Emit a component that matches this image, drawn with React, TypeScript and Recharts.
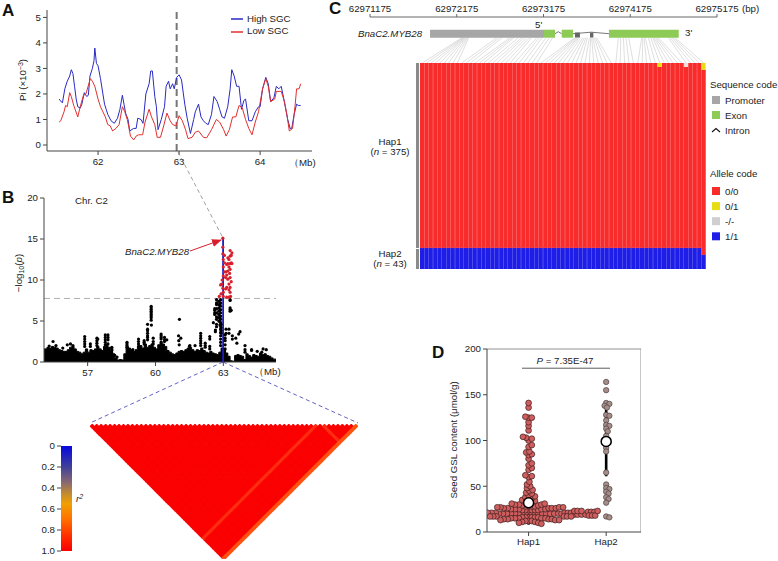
// Multi-panel figure: Pi track, Manhattan + LD, haplotype heatmap, seed GSL swarm
import React from 'react'
import {
  Area,
  Bar,
  BarChart,
  ComposedChart,
  Legend,
  Line,
  LineChart,
  ReferenceLine,
  Scatter,
  ScatterChart,
  XAxis,
  YAxis,
} from 'recharts'

type Pair = [number, number]

const toPoints = (rows: Pair[]) => rows.map(([x, y]) => ({ x, y }))

// ---- Panel A: nucleotide diversity ----
const highSgc: Pair[] = [
  [61.52, 1.8], [61.54, 1.72], [61.56, 1.65], [61.59, 2.2], [61.62, 2.5], [61.65, 2.7], [61.67, 2.95], [61.69, 2.8],
  [61.71, 2.3], [61.73, 1.8], [61.75, 1.5], [61.78, 1.45], [61.8, 1.6], [61.83, 2.05], [61.86, 1.9], [61.88, 1.95],
  [61.9, 2.7], [61.93, 3.0], [61.95, 3.3], [61.96, 3.8], [61.98, 3.2], [62.0, 3.1], [62.03, 2.6], [62.06, 2.0],
  [62.08, 1.6], [62.1, 1.4], [62.12, 1.2], [62.16, 0.95], [62.2, 0.85], [62.24, 1.05], [62.27, 1.4], [62.3, 1.95],
  [62.32, 1.6], [62.34, 1.25], [62.37, 1.0], [62.39, 0.55], [62.44, 0.65], [62.47, 0.65], [62.49, 1.05], [62.53, 1.0],
  [62.555, 0.85], [62.59, 2.0], [62.63, 2.4], [62.65, 2.9], [62.67, 2.9], [62.7, 1.9], [62.72, 1.5], [62.74, 0.6],
  [62.78, 1.0], [62.82, 1.5], [62.84, 2.3], [62.87, 2.5], [62.89, 2.2], [62.92, 2.4], [62.94, 2.2], [62.97, 2.65],
  [63.0, 2.75], [63.03, 2.55], [63.07, 1.6], [63.1, 1.05], [63.14, 0.45], [63.18, 1.0], [63.2, 1.3], [63.24, 1.6],
  [63.27, 1.1], [63.3, 0.95], [63.33, 0.85], [63.36, 0.8], [63.4, 1.2], [63.43, 1.9], [63.47, 1.7], [63.5, 1.4],
  [63.53, 1.1], [63.56, 1.05], [63.6, 1.5], [63.63, 2.2], [63.65, 2.95], [63.68, 2.7], [63.71, 2.3], [63.74, 2.3],
  [63.77, 1.4], [63.8, 1.75], [63.82, 1.8], [63.86, 0.95], [63.9, 0.95], [63.94, 1.3], [63.98, 1.5], [64.0, 1.5],
  [64.03, 2.2], [64.07, 2.65], [64.1, 2.4], [64.13, 1.7], [64.17, 1.85], [64.2, 2.3], [64.23, 2.2], [64.26, 2.3],
  [64.28, 2.0], [64.31, 1.5], [64.34, 1.0], [64.37, 0.65], [64.39, 0.65], [64.42, 1.2], [64.45, 1.6], [64.47, 1.55], [64.5, 1.55],
]
const lowSgc: Pair[] = [
  [61.52, 0.9], [61.54, 0.95], [61.58, 1.3], [61.6, 1.55], [61.62, 1.5], [61.65, 2.05], [61.67, 1.9], [61.7, 1.55],
  [61.75, 1.1], [61.78, 1.5], [61.82, 1.95], [61.85, 2.0], [61.905, 2.6], [61.93, 2.5], [61.96, 2.3], [62.0, 1.8],
  [62.03, 1.5], [62.06, 1.3], [62.09, 1.1], [62.12, 0.8], [62.15, 0.75], [62.18, 0.55], [62.22, 0.65], [62.26, 0.8],
  [62.3, 1.5], [62.33, 1.3], [62.36, 1.0], [62.38, 0.7], [62.4, 0.35], [62.44, 0.2], [62.47, 0.35], [62.5, 0.4],
  [62.55, 0.4], [62.58, 0.9], [62.6, 1.1], [62.63, 1.4], [62.66, 1.1], [62.7, 0.8], [62.73, 0.3], [62.77, 0.3],
  [62.81, 0.75], [62.85, 1.25], [62.89, 0.95], [62.92, 0.8], [62.96, 0.75], [63.0, 1.15], [63.04, 0.95], [63.08, 0.6],
  [63.11, 0.25], [63.16, 0.3], [63.2, 0.5], [63.24, 0.55], [63.3, 0.3], [63.34, 0.28], [63.4, 0.6], [63.46, 1.0],
  [63.5, 0.9], [63.55, 0.6], [63.58, 0.35], [63.62, 0.6], [63.66, 1.1], [63.7, 1.1], [63.74, 1.55], [63.78, 1.45],
  [63.82, 1.0], [63.86, 0.65], [63.9, 0.4], [63.94, 0.9], [63.98, 1.3], [64.03, 2.2], [64.07, 2.6], [64.1, 2.3],
  [64.13, 1.7], [64.18, 1.8], [64.2, 2.1], [64.26, 2.1], [64.3, 1.7], [64.33, 1.2], [64.36, 0.55], [64.4, 0.65],
  [64.43, 1.5], [64.45, 2.2], [64.48, 2.2], [64.5, 2.4],
]
const piTicksX = [62, 63, 64]
const piTicksY = [0, 1, 2, 3, 4, 5]

// ---- Panel B: Manhattan plot ----
const gwasFloor: Pair[] = [
  [55.07, 1.6], [55.2, 1.8], [55.3, 1.7], [55.4, 1.9], [55.5, 1.8], [55.6, 1.7], [55.7, 1.5], [55.8, 1.4], [55.9, 1.3],
  [56.0, 1.3], [56.1, 1.5], [56.2, 1.8], [56.3, 1.9], [56.4, 1.6], [56.5, 1.3], [56.6, 1.2], [56.7, 1.0], [56.8, 1.2],
  [56.9, 1.6], [57.0, 1.2], [57.1, 1.5], [57.2, 1.4], [57.3, 1.6], [57.4, 1.9], [57.5, 1.6], [57.6, 1.4], [57.7, 1.9],
  [57.8, 2.2], [57.9, 1.8], [58.0, 1.4], [58.1, 1.0], [58.2, 0.5], [58.3, 0.25], [58.4, 0.3], [58.5, 0.25], [58.6, 1.0],
  [58.7, 1.9], [58.8, 1.7], [58.9, 1.5], [59.0, 1.3], [59.1, 1.5], [59.2, 1.8], [59.3, 2.0], [59.4, 1.7], [59.5, 2.2],
  [59.6, 1.8], [59.7, 2.0], [59.8, 2.2], [59.9, 1.8], [60.0, 1.6], [60.1, 2.1], [60.2, 2.5], [60.3, 2.2], [60.4, 1.9],
  [60.5, 1.4], [60.6, 1.2], [60.7, 1.0], [60.8, 0.9], [60.9, 1.1], [61.0, 1.3], [61.1, 1.4], [61.2, 1.3], [61.3, 1.5],
  [61.4, 1.7], [61.5, 1.8], [61.6, 1.5], [61.7, 1.3], [61.8, 1.5], [61.9, 1.4], [62.0, 1.7], [62.1, 1.4], [62.2, 1.2],
  [62.3, 1.1], [62.4, 1.3], [62.5, 1.1], [62.6, 1.0], [62.7, 0.9], [62.8, 1.2], [62.9, 1.7], [63.0, 1.6], [63.1, 1.1],
  [63.2, 0.7], [63.3, 0.15], [63.4, 0.1], [63.5, 0.8], [63.6, 0.9], [63.7, 0.8], [63.8, 0.7], [63.9, 0.3], [64.0, 1.0],
  [64.1, 0.8], [64.2, 0.6], [64.3, 0.9], [64.4, 0.8], [64.5, 0.7], [64.6, 1.1], [64.7, 0.9], [64.8, 1.0], [64.9, 0.8],
  [65.0, 0.7], [65.1, 0.5], [65.2, 0.35], [65.33, 0.2],
]
const gwasBlack: Pair[] = [
  [59.81, 5.1], [59.81, 5.4], [59.81, 5.6], [59.81, 5.8], [59.81, 6.0], [59.81, 6.2], [59.81, 6.4], [59.81, 6.6], [59.81, 6.8],
  [59.65, 4.6], [59.65, 4.0], [59.65, 3.8], [59.65, 3.5], [59.65, 3.2], [59.65, 3.0], [59.65, 2.7], [59.82, 4.5],
  [61.06, 5.2], [61.02, 3.2], [61.12, 2.9], [61.03, 2.6], [61.05, 2.1],
  [55.3, 1.95], [55.6, 2.0], [55.47, 2.5], [55.9, 1.7], [56.24, 2.2], [56.1, 2.1], [56.35, 2.0],
  [56.87, 3.1], [56.87, 2.8], [56.87, 2.5], [56.87, 2.2], [56.87, 1.9], [57.12, 2.2], [57.12, 1.9],
  [57.41, 2.9], [57.41, 2.6], [57.41, 2.3], [57.41, 2.0], [57.45, 2.8],
  [57.78, 3.3], [57.78, 3.0], [57.78, 2.7], [57.78, 2.4], [57.78, 2.1], [57.9, 3.3], [57.9, 3.0], [57.9, 2.7], [57.9, 2.2],
  [58.07, 1.8], [58.07, 1.6], [58.07, 1.4], [58.07, 1.1], [58.2, 0.8], [58.3, 0.6],
  [58.74, 2.4], [58.74, 2.2], [58.74, 2.0], [58.74, 1.8], [59.0, 1.5], [59.25, 2.8], [59.25, 2.5], [59.25, 2.2], [59.25, 1.9],
  [59.5, 2.6], [59.5, 2.4], [59.5, 2.2], [59.9, 2.9], [59.9, 2.5], [59.9, 2.2],
  [60.25, 3.4], [60.25, 3.2], [60.25, 3.0], [60.25, 2.8], [60.4, 3.0], [60.4, 2.7], [60.4, 2.5], [60.5, 2.7],
  [61.5, 1.9], [61.52, 2.0], [61.75, 2.0], [62.0, 3.5], [62.0, 3.2], [62.0, 2.9], [62.0, 2.6], [62.0, 2.3], [62.0, 2.0],
  [62.2, 2.3], [62.2, 2.0], [62.2, 1.8], [62.4, 3.1], [62.4, 2.8], [62.4, 1.9], [62.4, 1.6],
  [62.56, 4.8], [62.7, 4.6], [62.7, 4.3], [62.65, 3.9], [62.65, 3.7],
  [62.62, 6.5], [62.62, 6.3], [62.62, 6.0], [62.62, 5.8], [62.7, 7.6], [62.7, 7.2], [62.7, 7.0], [62.7, 6.5], [62.7, 6.0], [62.7, 5.5], [62.7, 5.2],
  [62.8, 7.4], [62.8, 7.0], [62.8, 6.6], [62.8, 6.2], [62.8, 5.8], [62.8, 5.4], [62.8, 5.0],
  [62.85, 7.0], [62.85, 6.3], [62.85, 5.4], [62.85, 4.9], [62.85, 4.5], [62.9, 4.6], [62.9, 4.2], [62.9, 3.8], [62.9, 3.5],
  [62.88, 7.6], [62.88, 7.2], [62.88, 6.8], [62.88, 6.4], [62.88, 6.0], [62.88, 5.6], [62.88, 5.2], [62.88, 4.8], [62.88, 4.4],
  [62.88, 4.0], [62.88, 3.6], [62.88, 3.2], [62.88, 2.8], [62.88, 2.4], [62.88, 2.0],
  [63.08, 3.3], [63.08, 2.9], [63.08, 2.6], [63.08, 2.1], [63.08, 1.6], [63.12, 4.0], [63.12, 3.5], [63.25, 4.0], [63.25, 3.5],
  [63.3, 6.2], [63.3, 6.4], [63.3, 6.6], [63.3, 7.5], [63.3, 7.6], [63.35, 6.3], [63.4, 3.2], [63.4, 2.8],
  [63.74, 3.7], [63.68, 3.4], [63.55, 2.9], [63.6, 2.3], [63.96, 2.0], [63.96, 1.5], [63.96, 1.2],
  [64.25, 1.5], [64.25, 1.4], [64.76, 1.6], [64.9, 1.5], [64.5, 1.3], [64.7, 1.2],
]
const gwasRed: Pair[] = [
  [62.98, 15.1], [62.98, 14], [62.98, 13.2], [63.05, 13], [63.0, 12.5], [63.05, 12.1], [63.0, 11.6], [63.05, 11], [63, 10.5],
  [62.95, 10], [62.93, 9.5], [62.88, 9.4], [62.98, 9], [62.9, 8.3], [62.82, 8], [63, 8.5], [63.0, 8.0],
  [63.3, 13.6], [63.38, 13.3], [63.35, 13], [63.3, 12.9], [63.25, 12.5], [63.2, 12.7], [63.35, 12.1], [63.3, 12], [63.2, 12],
  [63.38, 12], [63.15, 11.9], [63.25, 11.6], [63.3, 11.3], [63.2, 11.1], [63.12, 11], [63.28, 10.8], [63.15, 10.6], [63.3, 10.3],
  [63.1, 10.3], [63.2, 10.1], [63.35, 9.8], [63.25, 9.5], [63.3, 9.1], [63.15, 9.1], [63.25, 8.8], [63.3, 8.5], [63.32, 8],
  [63.25, 7.9], [63.15, 7.9], [63.1, 8.9],
]
const gwasLead: Pair[] = [[62.99, 0], [62.99, 15.2]]
const gwasThreshold = 7.75
const gwasTicksX = [57, 60, 63]
const gwasTicksY = [0, 5, 10, 15, 20]

// ---- LD triangle ----
const ldSnpCount = 60
const ldWeakAsSecond = [50] // SNP whose pairs with every earlier SNP read lower
const ldWeakAsFirst = [52] // SNP whose pairs with later SNPs read lower
const ldLastSnp = 59 // far right edge
const r2Ticks = [0, 0.2, 0.4, 0.6, 0.8, 1]
const r2Stops: [number, string][] = [
  [0, '#0808e0'], [0.2, '#40409a'], [0.35, '#8a6a70'], [0.45, '#c08a30'],
  [0.55, '#f0a000'], [0.7, '#ff7000'], [0.85, '#ff3000'], [1, '#fb0000'],
]

// ---- Panel C: gene model + haplotype table ----
const rulerStart = 62971175
const rulerEnd = 62975175
const rulerTicks = [62971175, 62972175, 62973175, 62974175, 62975175]
const promoterBp = [692, 2006]
const exonBp: Pair[] = [[2006, 2133], [2210, 2340], [2755, 3559]]
const intronBp: Pair[][] = [
  [[2133, 0], [2170, 2], [2210, 0]],
  [[2340, 0], [2550, 1.5], [2755, 0]],
]
const darkIntronBlocksBp: Pair[] = [[2363, 2420], [2536, 2575]]
const snpOffsetBp = [
  1061, 1068, 1080, 1088, 1095, 1103, 1114, 1126, 1138,
  1460, 1491, 1522, 1614, 1637, 1660, 1710, 1749, 1775, 1806, 1837, 1864, 1922, 1952, 1983, 2029, 2068, 2106,
  2363, 2375, 2386, 2398, 2410, 2429, 2452, 2471, 2490, 2506, 2529, 2544, 2555, 2567, 2583, 2598, 2613,
  2863, 2890, 2921, 2951, 2982,
  3132, 3144, 3159, 3174, 3209, 3236, 3259, 3274, 3290, 3305, 3324, 3439, 3459, 3478, 3497, 3516,
]
// rows per allele call, one entry per SNP column
const allele11 = [
  43, 43, 43, 43, 43, 43, 43, 43, 43, 43, 43, 43, 43, 43, 43, 43, 43, 43, 43, 43, 43, 43,
  43, 43, 43, 43, 43, 43, 43, 43, 43, 43, 43, 43, 43, 43, 43, 43, 43, 43, 43, 43, 43, 43,
  43, 43, 43, 43, 43, 43, 43, 43, 43, 43, 43, 43, 43, 43, 43, 43, 43, 43, 43, 43, 29,
]
const allele01 = [
  0, 0, 0, 0, 0, 0, 0, 0, 0, 0, 0, 0, 0, 0, 0, 0, 0, 0, 0, 0, 0, 0,
  0, 0, 0, 0, 0, 0, 0, 0, 0, 0, 0, 0, 0, 0, 0, 0, 0, 0, 0, 0, 0, 0,
  0, 0, 0, 0, 0, 0, 0, 0, 0, 0, 8, 0, 0, 0, 0, 0, 0, 0, 0, 0, 14,
]
const alleleMissing = [
  0, 0, 0, 0, 0, 0, 0, 0, 0, 0, 0, 0, 0, 0, 0, 0, 0, 0, 0, 0, 0, 0,
  0, 0, 0, 0, 0, 0, 0, 0, 0, 0, 0, 0, 0, 0, 0, 0, 0, 0, 0, 0, 0, 0,
  0, 0, 0, 0, 0, 0, 0, 0, 0, 0, 0, 0, 0, 0, 0, 0, 8, 0, 0, 0, 0,
]
const allele00 = [
  375, 375, 375, 375, 375, 375, 375, 375, 375, 375, 375, 375, 375, 375, 375, 375, 375, 375, 375, 375, 375, 375,
  375, 375, 375, 375, 375, 375, 375, 375, 375, 375, 375, 375, 375, 375, 375, 375, 375, 375, 375, 375, 375, 375,
  375, 375, 375, 375, 375, 375, 375, 375, 375, 375, 367, 375, 375, 375, 375, 375, 367, 375, 375, 375, 375,
]
const sequenceCodes = [
  { label: 'Promoter', color: '#a6a6a6' },
  { label: 'Exon', color: '#8ecb56' },
]
const alleleCodes = [
  { label: '0/0', color: '#f92c2c' },
  { label: '0/1', color: '#e8dc14' },
  { label: '-/-', color: '#cfcfcf' },
  { label: '1/1', color: '#1e1ee8' },
]

// ---- Panel D: seed GSL swarm ----
const gslMode = 20
const gslHap1 = [
  141, 136, 126, 125, 125, 120, 116, 111, 104, 103, 102, 100, 95, 93, 88, 87, 85, 84, 80, 75, 73, 70, 68, 62, 61, 60,
  55, 52, 50, 48, 46, 45, 43, 42, 40, 39, 38, 37, 36, 35, 34, 33, 32, 32, 31, 31, 30, 30, 30, 29, 29,
  28, 28, 28, 28, 27, 27, 27, 27, 26, 26, 26, 26, 26, 25, 25, 25, 25, 25, 24, 24, 24, 24, 24, 24, 23, 23, 23, 23, 23, 23,
  22, 22, 22, 22, 22, 22, 22, 21, 21, 21, 21, 21, 21, 21, 20, 20, 20, 20, 20, 20, 20, 20, 20, 20, 20, 20, 20, 20, 20, 20, 20, 20,
  19, 19, 19, 19, 19, 19, 19, 18, 18, 18, 18, 18, 18, 18, 17, 17, 17, 17, 17, 17, 16, 16, 16, 16, 16, 16,
  15, 15, 15, 15, 15, 14, 14, 14, 14, 13, 13, 13, 12, 12, 12, 11, 11, 10, 10, 9,
]
const gslHap2 = [164, 155, 141, 140, 138, 136, 128, 127, 122, 117, 116, 113, 110, 105, 100, 98, 92, 88, 65, 52, 48, 47, 44, 42, 38, 36, 32, 17, 16]
const gslMeans: Pair[] = [[1, 32], [2, 99]]
const gslBarHap1: Pair[] = [[1, 8], [1, 55]]
const gslBarHap2: Pair[] = [[2, 61], [2, 138]]
const gslBracket = { from: 0.915, to: 2.05, level: 179 }
const gslTicksX = [1, 2]
const gslTicksY = [0, 50, 100, 150, 200]
const gslNames = ['', 'Hap1', 'Hap2']

const FONT = '"Liberation Sans", Arial, sans-serif'
const INK = '#222'
const AXIS = '#444'
const tick = { fontSize: 9.7, fill: INK, fontFamily: FONT }
const PAD = 8 // room above/below the plots so the end tick labels are not cut

// plot box helper: absolute chart box so the plot area lands where the figure has it
const box = (left: number, top: number): React.CSSProperties => ({ position: 'absolute', left, top })

// Lay a value list out as a swarm, in x-axis units, using the panel's px-per-unit scale
function swarm(values: number[], centre: number, pxPerX: number, pxPerY: number, gap: number) {
  const placed: { dx: number; py: number }[] = []
  return values.map((v) => {
    const py = v * pxPerY
    let dx = 0
    for (let k = 0; k < 200; k++) {
      const off = (k % 2 ? 1 : -1) * Math.ceil(k / 2) * 0.8
      if (placed.every((p) => (p.dx - off) ** 2 + (p.py - py) ** 2 >= gap * gap)) {
        dx = off
        break
      }
    }
    placed.push({ dx, py })
    return { x: centre + dx / pxPerX, y: v }
  })
}

const dot = (r: number, fill: string, stroke: string, strokeWidth = 0.7) => (p: any) => (
  <circle cx={p.cx} cy={p.cy} r={r} fill={fill} stroke={stroke} strokeWidth={strokeWidth} />
)

function buildLdCells() {
  const cells: { x: number; y: number; r2: number }[] = []
  for (let i = 0; i < ldSnpCount; i++) {
    for (let j = i; j < ldSnpCount; j++) {
      let r2 = 1
      if (j === ldLastSnp) r2 = 0.8
      else if (ldWeakAsSecond.includes(j) || ldWeakAsFirst.includes(i)) r2 = 0.88
      cells.push({ x: (i + j) / 2, y: (j - i) / 2, r2 })
    }
  }
  return cells
}
const ldFill = (r2: number) => (r2 === 1 ? '#fb0000' : r2 > 0.85 ? '#ff2c10' : '#ff5210')

function PiPanel() {
  return (
    <LineChart
      width={295}
      height={161 + PAD}
      style={box(17, 10 - PAD)}
      margin={{ top: PAD, right: 0, bottom: 0, left: 0 }}
    >
      <XAxis
        dataKey="x"
        type="number"
        domain={[61.37, 64.64]}
        ticks={piTicksX}
        interval={0}
        height={20}
        tick={tick}
        tickSize={4}
        tickMargin={3}
        stroke={AXIS}
      />
      <YAxis
        dataKey="y"
        type="number"
        domain={[-0.235, 5.29]}
        ticks={piTicksY}
        interval={0}
        width={30}
        tick={tick}
        tickSize={4}
        stroke={AXIS}
      />
      <ReferenceLine x={62.97} stroke="#777" strokeWidth={2} strokeDasharray="7 4" />
      <Line
        data={toPoints(highSgc)}
        dataKey="y"
        name="High SGC"
        stroke="#2a2ac4"
        strokeWidth={1}
        dot={false}
        isAnimationActive={false}
      />
      <Line
        data={toPoints(lowSgc)}
        dataKey="y"
        name="Low SGC"
        stroke="#e0302e"
        strokeWidth={1}
        dot={false}
        isAnimationActive={false}
      />
      <Legend
        layout="vertical"
        align="center"
        verticalAlign="middle"
        iconType="plainline"
        iconSize={12}
        wrapperStyle={{ left: 214, top: 11, width: 80, fontSize: 9.7, lineHeight: '12px', color: INK }}
        formatter={(value) => <span style={{ color: INK }}>{value}</span>}
      />
    </LineChart>
  )
}

function GwasPanel() {
  return (
    <ComposedChart
      width={262}
      height={184 + PAD}
      style={box(14, 198 - PAD)}
      margin={{ top: PAD, right: 0, bottom: 0, left: 0 }}
    >
      <XAxis
        dataKey="x"
        type="number"
        domain={[55.07, 65.33]}
        ticks={gwasTicksX}
        interval={0}
        height={20}
        tick={tick}
        tickSize={4}
        tickMargin={3}
        stroke={AXIS}
        allowDataOverflow
      />
      <YAxis
        dataKey="y"
        type="number"
        domain={[0, 20]}
        ticks={gwasTicksY}
        interval={0}
        width={30}
        tick={tick}
        tickSize={4}
        stroke={AXIS}
      />
      <ReferenceLine y={gwasThreshold} stroke="#b0b0b0" strokeWidth={1} strokeDasharray="6 4" />
      <Area
        data={toPoints(gwasFloor)}
        dataKey="y"
        type="stepAfter"
        fill="#000"
        fillOpacity={1}
        stroke="#000"
        isAnimationActive={false}
      />
      <Scatter data={toPoints(gwasBlack)} dataKey="y" shape={dot(1.6, '#000', 'none', 0)} isAnimationActive={false} />
      <Scatter data={toPoints(gwasRed)} dataKey="y" shape={dot(1.6, '#d8202c', 'none', 0)} isAnimationActive={false} />
      <Line
        data={toPoints(gwasLead)}
        dataKey="y"
        stroke="#1c1cc0"
        strokeWidth={1.8}
        dot={false}
        isAnimationActive={false}
      />
    </ComposedChart>
  )
}

function LdPanel() {
  const cells = buildLdCells()
  const diamond = (p: any) => {
    const h = 2.7
    return (
      <polygon
        points={`${p.cx - h},${p.cy} ${p.cx},${p.cy - h} ${p.cx + h},${p.cy} ${p.cx},${p.cy + h}`}
        fill={ldFill(p.payload.r2)}
      />
    )
  }
  return (
    <ScatterChart
      width={268}
      height={135}
      style={box(90, 424)}
      margin={{ top: 0, right: 0, bottom: 0, left: 0 }}
    >
      <XAxis dataKey="x" type="number" domain={[-0.5, 59.5]} hide />
      <YAxis dataKey="y" type="number" domain={[-0.5, 29.72]} reversed hide />
      <Scatter data={cells} shape={diamond} isAnimationActive={false} />
    </ScatterChart>
  )
}

function R2Scale() {
  return (
    <BarChart
      width={42}
      height={105 + 2 * PAD}
      data={[{ name: 'r2', v: 1 }]}
      style={box(30, 446 - PAD)}
      margin={{ top: PAD, right: 0, bottom: PAD, left: 0 }}
      barCategoryGap={0}
    >
      <defs>
        <linearGradient id="r2Gradient" x1="0" y1="0" x2="0" y2="1">
          {r2Stops.map(([offset, color]) => (
            <stop key={offset} offset={offset} stopColor={color} />
          ))}
        </linearGradient>
      </defs>
      <XAxis dataKey="name" hide />
      <YAxis
        type="number"
        domain={[0, 1]}
        ticks={r2Ticks}
        interval={0}
        reversed
        width={31}
        tick={tick}
        tickSize={4}
        axisLine={false}
        stroke={AXIS}
        tickFormatter={(v) => (v === 1 ? '1.0' : String(v))}
      />
      <Bar dataKey="v" fill="url(#r2Gradient)" isAnimationActive={false} />
    </BarChart>
  )
}

function GeneModel() {
  // heatmap columns sit on px 420..706, the ruler on px 370..717 (bp scale)
  const bpPerPx = (rulerEnd - rulerStart) / 347
  const columnBp = (k: number) => (420 + (k + 0.5) * 4.4 - 370) * bpPerPx
  const seg = (a: number, b: number, y: number) => [
    { x: rulerStart + a, y },
    { x: rulerStart + b, y },
  ]
  return (
    <LineChart width={438} height={63} style={box(340, 0)} margin={{ top: 0, right: 61, bottom: 0, left: 30 }}>
      <XAxis
        dataKey="x"
        type="number"
        orientation="top"
        domain={[rulerStart, rulerEnd]}
        ticks={rulerTicks}
        interval={0}
        height={17}
        tick={tick}
        tickSize={3}
        stroke="#666"
      />
      <YAxis dataKey="y" type="number" domain={[0, 46]} hide />
      {snpOffsetBp.map((bp, k) => (
        <Line
          key={k}
          data={[
            { x: rulerStart + bp, y: 25.3 },
            { x: rulerStart + columnBp(k), y: 0 },
          ]}
          dataKey="y"
          stroke="#c9c9c9"
          strokeWidth={0.6}
          dot={false}
          isAnimationActive={false}
        />
      ))}
      {intronBp.map((rows, k) => (
        <Line
          key={k}
          data={rows.map(([bp, up]) => ({ x: rulerStart + bp, y: 29.3 + up }))}
          dataKey="y"
          stroke="#555"
          strokeWidth={0.8}
          dot={false}
          isAnimationActive={false}
        />
      ))}
      {darkIntronBlocksBp.map(([a, b], k) => (
        <Line
          key={k}
          data={seg(a, b, 28)}
          dataKey="y"
          stroke="#666"
          strokeWidth={5}
          dot={false}
          isAnimationActive={false}
        />
      ))}
      <Line
        data={seg(promoterBp[0], promoterBp[1], 29.3)}
        dataKey="y"
        stroke="#a6a6a6"
        strokeWidth={8}
        dot={false}
        isAnimationActive={false}
      />
      {exonBp.map(([a, b], k) => (
        <Line
          key={k}
          data={seg(a, b, 29.3)}
          dataKey="y"
          stroke="#8ecb56"
          strokeWidth={8}
          dot={false}
          isAnimationActive={false}
        />
      ))}
    </LineChart>
  )
}

function HaplotypePanel() {
  const columns = allele00.map((v, k) => ({
    snp: k,
    hom0: v,
    het: allele01[k],
    missing: alleleMissing[k],
    hom1: allele11[k],
  }))
  // the library rounds bar widths down, so a thin same-colour stroke closes the seams
  const red = alleleCodes[0].color
  const blue = alleleCodes[3].color
  return (
    <BarChart
      width={286}
      height={206}
      data={columns}
      style={box(420, 63)}
      margin={{ top: 0, right: 0, bottom: 0, left: 0 }}
      barCategoryGap={0}
    >
      <XAxis dataKey="snp" hide />
      <YAxis type="number" domain={[0, 418]} hide />
      <Bar dataKey="hom0" stackId="b" hide />
      <Bar dataKey="hom1" stackId="a" fill={blue} stroke={blue} strokeWidth={0.42} isAnimationActive={false} />
      <Bar dataKey="hom0" stackId="a" fill={red} stroke={red} strokeWidth={0.42} isAnimationActive={false} />
      <Bar dataKey="het" stackId="a" fill={alleleCodes[1].color} isAnimationActive={false} />
      <Bar dataKey="missing" stackId="a" fill="#f3dede" isAnimationActive={false} />
    </BarChart>
  )
}

function GslPanel() {
  const outward = [...gslHap1].sort((a, b) => Math.abs(a - gslMode) - Math.abs(b - gslMode))
  const hap1 = swarm(outward, 1, 77.3, 0.915, 3.2)
  const hap2 = swarm(gslHap2, 2, 77.3, 0.915, 3)
  return (
    <ComposedChart
      width={184}
      height={203 + PAD}
      style={box(457, 349 - PAD)}
      margin={{ top: PAD, right: 0, bottom: 0, left: 0 }}
    >
      <XAxis
        dataKey="x"
        type="number"
        domain={[0.464, 2.449]}
        ticks={gslTicksX}
        interval={0}
        height={20}
        tick={tick}
        tickSize={4}
        stroke={AXIS}
        tickFormatter={(v) => gslNames[v]}
        allowDataOverflow
      />
      <YAxis
        dataKey="y"
        type="number"
        domain={[0, 200]}
        ticks={gslTicksY}
        interval={0}
        width={30}
        tick={tick}
        tickSize={4}
        stroke={AXIS}
      />
      <ReferenceLine y={200} stroke="#777" strokeWidth={0.8} />
      <ReferenceLine x={2.449} stroke="#777" strokeWidth={0.8} />
      <ReferenceLine
        segment={[
          { x: gslBracket.from, y: gslBracket.level },
          { x: gslBracket.to, y: gslBracket.level },
        ]}
        stroke="#333"
        strokeWidth={0.8}
      />
      <Scatter data={hap1} dataKey="y" shape={dot(2.9, '#cf5f5f', '#3c1c1c')} isAnimationActive={false} />
      <Scatter data={hap2} dataKey="y" shape={dot(2.7, '#a58d88', '#4c4040')} isAnimationActive={false} />
      <Line data={toPoints(gslBarHap1)} dataKey="y" stroke="#000" strokeWidth={2.6} dot={false} isAnimationActive={false} />
      <Line data={toPoints(gslBarHap2)} dataKey="y" stroke="#000" strokeWidth={2.6} dot={false} isAnimationActive={false} />
      <Scatter data={toPoints(gslMeans)} dataKey="y" shape={dot(5, '#fff', '#000', 1.5)} isAnimationActive={false} />
    </ComposedChart>
  )
}

function Annotations() {
  const t = { fontSize: 9.7, fill: INK, fontFamily: FONT }
  const panel = { fontSize: 17, fontWeight: 700, fill: '#111', fontFamily: FONT }
  return (
    <svg width={778} height={561} style={{ position: 'absolute', left: 0, top: 0, pointerEvents: 'none' }}>
      <defs>
        <marker id="redHead" markerWidth="10" markerHeight="8" refX="9" refY="4" orient="auto" markerUnits="userSpaceOnUse">
          <path d="M0,0 L10,4 L0,8 Z" fill="#d8202c" />
        </marker>
      </defs>

      <text x={2} y={16} {...panel}>A</text>
      <text x={2} y={203} {...panel}>B</text>
      <text x={329} y={14} {...panel}>C</text>
      <text x={432} y={358} {...panel}>D</text>

      {/* links between the panels */}
      <path d="M178,152 L223,238" stroke="#888" strokeWidth={0.8} strokeDasharray="4 3" fill="none" />
      <path d="M223,362 L90,423 M223,362 L358,423" stroke="#3a3ab8" strokeWidth={0.8} strokeDasharray="4 3" fill="none" />

      <text transform="translate(26,80) rotate(-90)" textAnchor="middle" {...t}>
        Pi (×10<tspan fontSize={7} dy={-3}>−3</tspan><tspan dy={3}>)</tspan>
      </text>
      <text x={289} y={166} {...t}>（Mb)</text>

      <text x={75} y={204} {...t}>Chr. C2</text>
      <text transform="translate(22,273) rotate(-90)" textAnchor="middle" {...t}>
        −log<tspan fontSize={7} dy={2}>10</tspan><tspan dy={-2}>(</tspan><tspan fontStyle="italic">p</tspan>)
      </text>
      <text x={125} y={255} fontStyle="italic" {...t}>BnaC2.MYB28</text>
      <path d="M190,251 L221,240" stroke="#d8202c" strokeWidth={1} fill="none" markerEnd="url(#redHead)" />
      <text x={254} y={375} {...t}>（Mb)</text>

      <text x={76} y={502} fontStyle="italic" {...t}>r<tspan fontSize={7} dy={-3}>2</tspan></text>

      <text x={742} y={12} {...t}>(bp)</text>
      <text x={535} y={28} {...t}>5'</text>
      <text x={685} y={36} {...t}>3'</text>
      <text x={358} y={37} fontStyle="italic" {...t}>BnaC2.MYB28</text>

      <rect x={416} y={63} width={3} height={185} fill="#8a8a8a" />
      <rect x={416} y={249} width={3} height={20} fill="#8a8a8a" />
      <text x={390} y={145} textAnchor="middle" {...t}>Hap1</text>
      <text x={390} y={155} textAnchor="middle" {...t}>
        (<tspan fontStyle="italic">n</tspan> = 375)
      </text>
      <text x={390} y={257} textAnchor="middle" {...t}>Hap2</text>
      <text x={390} y={267} textAnchor="middle" {...t}>
        (<tspan fontStyle="italic">n</tspan> = 43)
      </text>

      <text x={710} y={88} {...t}>Sequence code</text>
      {sequenceCodes.map((c, k) => (
        <g key={c.label}>
          <rect x={712} y={96 + k * 15} width={8} height={8} fill={c.color} />
          <text x={725} y={103.5 + k * 15} {...t}>{c.label}</text>
        </g>
      ))}
      <path d="M712,132 L716,128.5 L720,132" stroke="#111" strokeWidth={1.1} fill="none" />
      <text x={725} y={133.5} {...t}>Intron</text>
      <text x={710} y={177} {...t}>Allele code</text>
      {alleleCodes.map((c, k) => (
        <g key={c.label}>
          <rect x={712} y={187 + k * 15.1} width={8} height={8} fill={c.color} />
          <text x={725} y={194.5 + k * 15.1} {...t}>{c.label}</text>
        </g>
      ))}

      <text x={565} y={364} textAnchor="middle" {...t}>
        <tspan fontStyle="italic">P</tspan> = 7.35E-47
      </text>
      <text transform="translate(457,440) rotate(-90)" textAnchor="middle" {...t}>
        Seed GSL content   (μmol/g)
      </text>
    </svg>
  )
}

export default function App() {
  return (
    <div
      style={{
        position: 'absolute',
        left: 0,
        top: 0,
        width: 778,
        height: 561,
        background: '#fff',
        fontFamily: FONT,
        overflow: 'hidden',
      }}
    >
      <PiPanel />
      <GwasPanel />
      <LdPanel />
      <R2Scale />
      <GeneModel />
      <HaplotypePanel />
      <GslPanel />
      <Annotations />
    </div>
  )
}
